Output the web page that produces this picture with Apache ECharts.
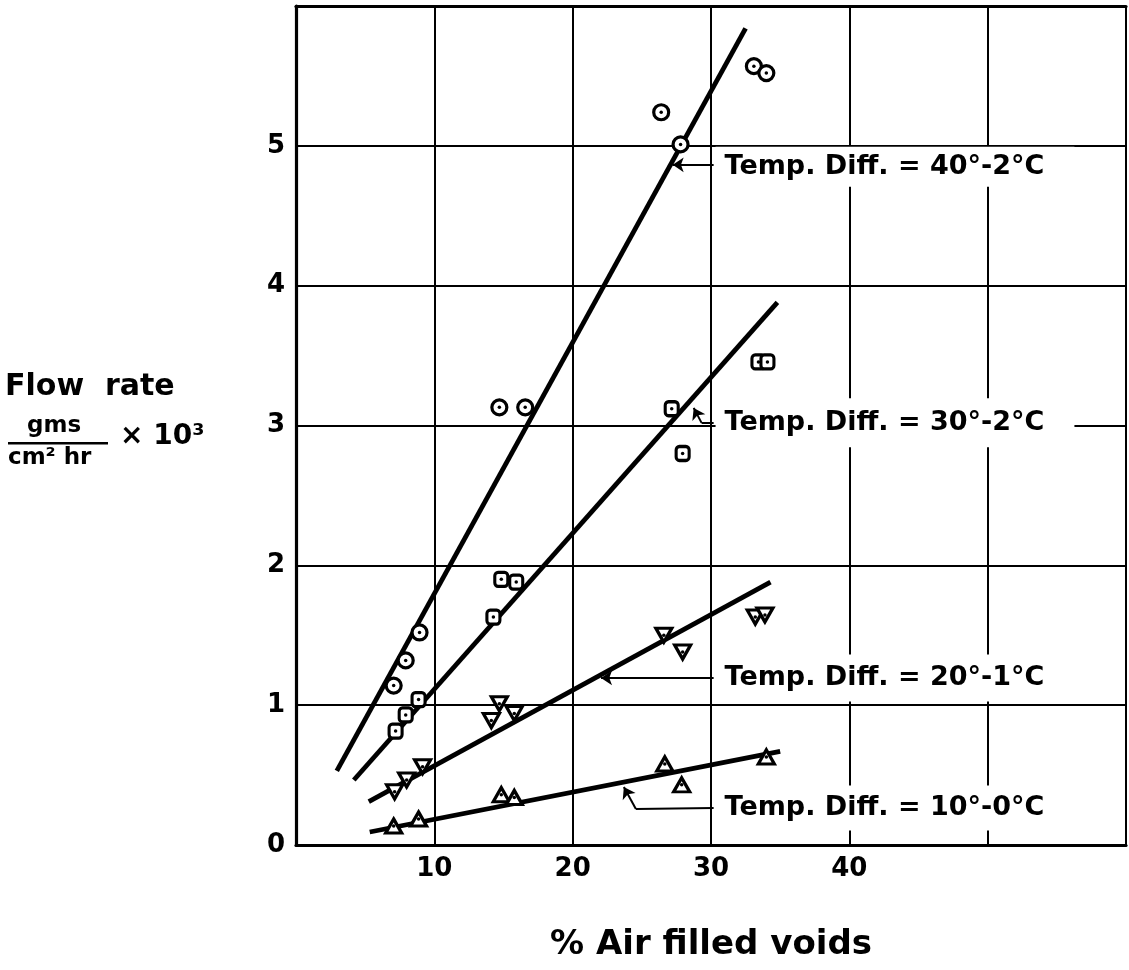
<!DOCTYPE html>
<html>
<head>
<meta charset="utf-8">
<script src="https://cdn.jsdelivr.net/npm/echarts@6/dist/echarts.min.js"></script>
<style>html,body{margin:0;padding:0;background:#fff}#c{width:1129px;height:970px}</style>
</head>
<body>
<div id="c"></div>
<script>
// ---- tick labels ----
const xTickLabels = {10: '10', 20: '20', 30: '30', 40: '40'};
const yTickLabels = {0: '0', 1: '1', 2: '2', 3: '3', 4: '4', 5: '5'};

// ---- measured points [% air filled voids, flow rate x10^3] ----
const circles40 = [[7.06,1.14],[7.93,1.32],[8.93,1.52],[14.70,3.13],[16.57,3.13],[26.4,5.24],[27.8,5.01],[33.1,5.57],[34.0,5.52]];
const squares30 = [[7.20,0.815],[7.93,0.93],[8.86,1.04],[14.27,1.63],[14.84,1.90],[15.92,1.88],[27.16,3.12],[27.95,2.80],[33.43,3.455],[34.08,3.455]];
const downTri20 = [[7.13,0.38],[8.0,0.465],[9.15,0.56],[14.12,0.89],[14.70,1.01],[15.78,0.94],[26.59,1.50],[27.95,1.38],[33.2,1.63],[33.9,1.645]];
const upTri10 = [[7.06,0.136],[8.86,0.186],[14.84,0.36],[15.78,0.34],[26.66,0.58],[27.88,0.43],[34.0,0.63]];

// ---- fitted lines (end points) ----
const fit40 = [[2.95,0.53],[32.5,5.84]];
const fit30 = [[4.18,0.465],[34.8,3.88]];
const fit20 = [[5.26,0.31],[34.3,1.88]];
const fit10 = [[5.33,0.093],[35.0,0.67]];

// ---- annotation texts and their anchors (data coordinates) ----
const labelTexts = ['Temp. Diff. = 40°-2°C', 'Temp. Diff. = 30°-2°C', 'Temp. Diff. = 20°-1°C', 'Temp. Diff. = 10°-0°C'];
const labelAnchors = [[30.33,4.85],[30.33,3.02],[30.33,1.195],[30.33,0.265]];
const leaderPlain = [
  [[30.19,3.019],[29.32,3.019]],
  [[30.19,0.265],[24.57,0.258]]
];
const leaderArrows = [
  [[30.19,4.864],[27.23,4.864]],
  [[29.32,3.019],[28.75,3.126]],
  [[30.19,1.195],[22.05,1.195]],
  [[24.57,0.258],[23.7,0.415]]
];

const FONT = 'DejaVu Sans';
const chart = echarts.init(document.getElementById('c'), null, {renderer: 'canvas'});

const markerStyle = {color: '#fff', borderColor: '#000', borderWidth: 3.2, opacity: 1};
function markerSeries(name, data, symbol, size, rotate) {
  return {
    name, type: 'scatter', data, symbol, symbolSize: size, symbolRotate: rotate || 0,
    itemStyle: markerStyle, z: 5, silent: true
  };
}
function dotSeries(data) {
  return {type: 'scatter', data, symbol: 'circle', symbolSize: 3.5, itemStyle: {color: '#000', opacity: 1}, z: 6, silent: true};
}
function fitSeries(data) {
  return {type: 'line', data, showSymbol: false, lineStyle: {color: '#000', width: 4.8}, z: 3, silent: true};
}
const labelPads = [[3,30,10,9],[11,30,11,9],[11,30,9,9],[9,30,9,9]];

const option = {
  backgroundColor: '#fff',
  animation: false,
  grid: {left: 296, top: 6, width: 833, height: 839, containLabel: false},
  xAxis: [{
    type: 'value', min: 0, max: 60, interval: 10,
    axisLine: {show: true, lineStyle: {color: '#000', width: 3.2}},
    axisTick: {show: false},
    axisLabel: {margin: 11, color: '#000', fontFamily: FONT, fontWeight: 'bold', fontSize: 26,
      formatter: v => xTickLabels[v] || ''},
    splitLine: {show: true, lineStyle: {color: '#000', width: 2}},
    name: '% Air filled voids', nameLocation: 'middle', nameGap: 83,
    nameTextStyle: {color: '#000', fontFamily: FONT, fontWeight: 'bold', fontSize: 34}
  }, {
    type: 'value', position: 'top', min: 0, max: 60,
    axisLine: {show: true, onZero: false, lineStyle: {color: '#000', width: 3.2}},
    axisTick: {show: false}, axisLabel: {show: false}, splitLine: {show: false}
  }],
  yAxis: {
    type: 'value', min: 0, max: 6, interval: 1,
    axisLine: {show: true, lineStyle: {color: '#000', width: 3.2}},
    axisTick: {show: false},
    axisLabel: {margin: 11, color: '#000', fontFamily: FONT, fontWeight: 'bold', fontSize: 26,
      formatter: v => (yTickLabels[v] !== undefined ? yTickLabels[v] : '')},
    splitLine: {show: true, lineStyle: {color: '#000', width: 2}}
  },
  graphic: [
    {type: 'text', left: 5, top: 372, style: {text: 'Flow  rate', font: 'bold 30px "DejaVu Sans"', fill: '#000'}},
    {type: 'text', left: 27, top: 415, style: {text: 'gms', font: 'bold 23px "DejaVu Sans"', fill: '#000'}},
    {type: 'rect', shape: {x: 8, y: 442, width: 100, height: 2.5}, style: {fill: '#000'}},
    {type: 'text', left: 8, top: 447, style: {text: 'cm² hr', font: 'bold 23px "DejaVu Sans"', fill: '#000'}},
    {type: 'text', left: 120, top: 423, style: {text: '× 10³', font: 'bold 28px "DejaVu Sans"', fill: '#000'}}
  ],
  series: [
    fitSeries(fit40), fitSeries(fit30), fitSeries(fit20), fitSeries(fit10),
    markerSeries('40°-2°C', circles40, 'circle', 15),
    markerSeries('30°-2°C', squares30, 'roundRect', [13, 14]),
    markerSeries('20°-1°C', downTri20, 'triangle', [16, 14], 180),
    markerSeries('10°-0°C', upTri10, 'triangle', [16, 14]),
    dotSeries(circles40), dotSeries(squares30), dotSeries(downTri20), dotSeries(upTri10),
    {
      type: 'lines', coordinateSystem: 'cartesian2d', silent: true, z: 4,
      symbol: ['none', 'none'],
      lineStyle: {color: '#000', width: 2, opacity: 1},
      data: leaderPlain.map(c => ({coords: c}))
    },
    {
      type: 'lines', coordinateSystem: 'cartesian2d', silent: true, z: 4,
      symbol: ['none', 'arrow'], symbolSize: 11,
      lineStyle: {color: '#000', width: 2, opacity: 1},
      data: leaderArrows.map(c => ({coords: c}))
    },
    {
      type: 'scatter', silent: true, z: 2, symbolSize: 0,
      itemStyle: {opacity: 1},
      data: labelAnchors.map((p, i) => ({
        value: [p[0], p[1]], name: labelTexts[i],
        label: {padding: labelPads[i]}
      })),
      label: {
        show: true, position: 'right', distance: 0,
        formatter: p => p.name,
        color: '#000', fontFamily: FONT, fontWeight: 'bold', fontSize: 27,
        backgroundColor: '#fff'
      }
    }
  ]
};
chart.setOption(option);
</script>
</body>
</html>
